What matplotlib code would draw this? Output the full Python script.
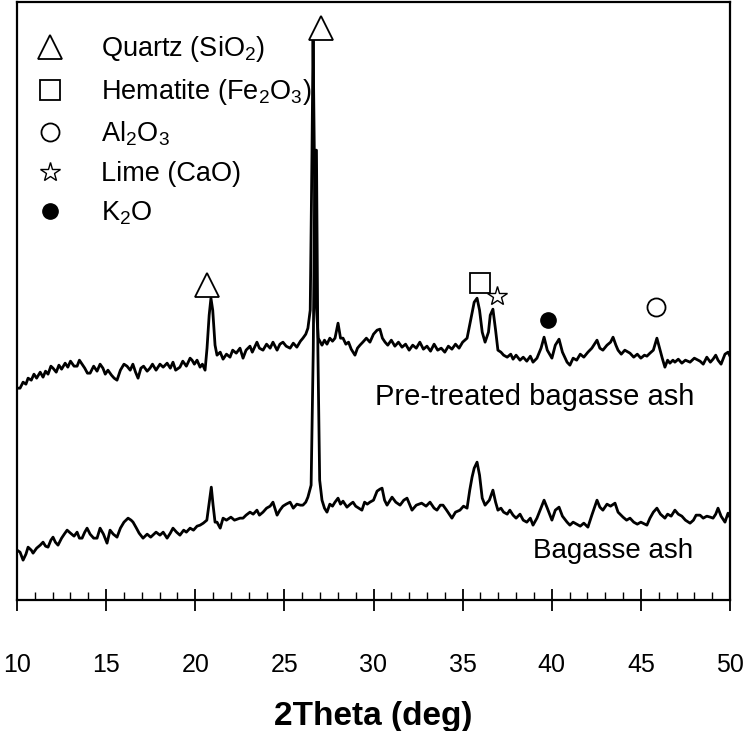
import matplotlib
matplotlib.use('Agg')
import matplotlib.pyplot as plt
from matplotlib.ticker import MultipleLocator

plt.rcParams['font.family'] = ['Liberation Sans', 'DejaVu Sans']
plt.rcParams['mathtext.fontset'] = 'custom'
plt.rcParams['mathtext.rm'] = 'Liberation Sans'
plt.rcParams['mathtext.it'] = 'Liberation Sans:italic'

# DATA (intensity in arbitrary units)
TWO_THETA_PRE = [
    10.00, 10.17, 10.34, 10.50, 10.62, 10.80, 10.95, 11.10, 11.30, 11.46,
    11.60, 11.74, 11.90, 12.02, 12.20, 12.35, 12.50, 12.70, 12.85, 13.00,
    13.20, 13.37, 13.50, 13.65, 13.80, 13.95, 14.10, 14.30, 14.49, 14.66,
    14.82, 14.95, 15.10, 15.30, 15.45, 15.61, 15.80, 16.00, 16.17, 16.35,
    16.50, 16.65, 16.79, 16.95, 17.10, 17.30, 17.46, 17.60, 17.80, 18.02,
    18.20, 18.42, 18.60, 18.75, 18.90, 19.14, 19.30, 19.50, 19.71, 19.82,
    19.95, 20.10, 20.27, 20.40, 20.55, 20.66, 20.78, 20.88, 20.98, 21.11,
    21.22, 21.40, 21.56, 21.75, 21.95, 22.10, 22.30, 22.51, 22.68, 22.85,
    23.07, 23.20, 23.46, 23.60, 23.80, 24.00, 24.20, 24.36, 24.59, 24.75,
    24.92, 25.10, 25.32, 25.50, 25.70, 25.90, 26.04, 26.20, 26.32, 26.45,
    26.55, 26.61, 26.68, 26.77, 26.90, 27.11, 27.25, 27.39, 27.55, 27.70,
    27.84, 28.01, 28.15, 28.29, 28.45, 28.60, 28.75, 28.96, 29.10, 29.24,
    29.40, 29.60, 29.80, 30.00, 30.20, 30.36, 30.50, 30.65, 30.80, 31.00,
    31.20, 31.40, 31.60, 31.80, 32.00, 32.20, 32.40, 32.60, 32.80, 33.00,
    33.20, 33.40, 33.60, 33.80, 34.00, 34.20, 34.40, 34.60, 34.80, 35.00,
    35.25, 35.45, 35.65, 35.81, 35.95, 36.10, 36.26, 36.45, 36.55, 36.70,
    36.85, 36.98, 37.15, 37.30, 37.50, 37.70, 37.83, 38.00, 38.22, 38.40,
    38.60, 38.80, 38.95, 39.17, 39.40, 39.57, 39.75, 40.01, 40.20, 40.41,
    40.60, 40.86, 41.02, 41.20, 41.40, 41.60, 41.80, 42.03, 42.25, 42.54,
    42.70, 42.87, 43.10, 43.30, 43.44, 43.60, 43.72, 43.90, 44.10, 44.39,
    44.60, 44.80, 45.00, 45.20, 45.34, 45.51, 45.70, 45.90, 46.05, 46.20,
    46.35, 46.50, 46.63, 46.80, 46.91, 47.10, 47.30, 47.50, 47.76, 48.00,
    48.32, 48.50, 48.70, 48.90, 49.05, 49.20, 49.33, 49.50, 49.72, 49.89,
    50.00]
INTENSITY_PRE = [
    212, 212, 218, 216, 222, 220, 226, 222, 228, 223,
    229, 226, 234, 232, 228, 235, 231, 237, 233, 239,
    234, 234, 240, 236, 232, 227, 227, 234, 229, 236,
    232, 226, 230, 225, 222, 220, 230, 236, 234, 230,
    236, 228, 222, 232, 234, 229, 232, 236, 230, 236,
    233, 237, 232, 238, 230, 233, 239, 234, 242, 240,
    236, 240, 233, 236, 230, 252, 285, 302, 290, 255,
    245, 248, 241, 246, 243, 250, 247, 252, 242, 250,
    254, 248, 258, 252, 250, 256, 252, 258, 250, 256,
    258, 254, 252, 257, 253, 259, 262, 266, 272, 290,
    450, 562, 450, 300, 262, 255, 260, 256, 262, 259,
    262, 277, 262, 262, 256, 258, 251, 245, 252, 255,
    258, 262, 258, 266, 270, 271, 262, 258, 255, 260,
    254, 258, 253, 256, 250, 255, 252, 258, 251, 254,
    249, 256, 250, 252, 248, 254, 251, 256, 252, 258,
    262, 280, 298, 302, 290, 268, 258, 268, 285, 291,
    270, 250, 248, 245, 243, 246, 241, 245, 240, 243,
    239, 244, 238, 242, 252, 263, 250, 242, 255, 261,
    248, 238, 235, 242, 240, 246, 243, 248, 252, 260,
    252, 250, 255, 258, 263, 255, 250, 246, 250, 247,
    243, 246, 242, 245, 244, 247, 250, 262, 252, 242,
    233, 240, 237, 240, 238, 241, 237, 240, 238, 242,
    239, 236, 243, 238, 241, 245, 240, 236, 246, 248,
    244]

TWO_THETA_RAW = [
    10.00, 10.17, 10.34, 10.50, 10.62, 10.80, 10.90, 11.10, 11.30, 11.46,
    11.60, 11.74, 11.90, 12.02, 12.15, 12.30, 12.50, 12.65, 12.81, 13.00,
    13.20, 13.37, 13.50, 13.65, 13.80, 13.93, 14.10, 14.30, 14.49, 14.66,
    14.85, 15.05, 15.22, 15.40, 15.61, 15.80, 16.00, 16.23, 16.40, 16.51,
    16.70, 16.85, 17.07, 17.30, 17.50, 17.80, 18.02, 18.20, 18.42, 18.60,
    18.75, 18.95, 19.14, 19.35, 19.50, 19.71, 19.90, 20.10, 20.27, 20.45,
    20.65, 20.80, 20.90, 21.00, 21.11, 21.22, 21.40, 21.56, 21.75, 22.00,
    22.20, 22.51, 22.68, 22.85, 23.07, 23.25, 23.46, 23.60, 23.80, 24.00,
    24.20, 24.36, 24.59, 24.75, 24.92, 25.10, 25.32, 25.50, 25.70, 25.90,
    26.04, 26.20, 26.32, 26.50, 26.62, 26.72, 26.80, 26.88, 26.98, 27.11,
    27.25, 27.39, 27.55, 27.70, 27.84, 28.01, 28.15, 28.29, 28.51, 28.70,
    28.85, 29.00, 29.35, 29.50, 29.65, 29.80, 30.00, 30.20, 30.36, 30.48,
    30.62, 30.76, 31.04, 31.25, 31.49, 31.70, 31.88, 32.16, 32.40, 32.70,
    32.95, 33.17, 33.40, 33.56, 33.75, 33.90, 34.10, 34.40, 34.60, 34.85,
    35.05, 35.25, 35.40, 35.53, 35.65, 35.81, 35.95, 36.10, 36.26, 36.50,
    36.70, 36.85, 36.98, 37.15, 37.30, 37.50, 37.65, 37.83, 38.00, 38.22,
    38.40, 38.60, 38.80, 38.95, 39.17, 39.35, 39.57, 39.75, 40.01, 40.20,
    40.41, 40.60, 40.86, 41.02, 41.20, 41.40, 41.60, 41.80, 42.03, 42.25,
    42.54, 42.70, 42.87, 43.10, 43.30, 43.55, 43.72, 44.00, 44.20, 44.39,
    44.60, 44.80, 45.00, 45.34, 45.51, 45.70, 45.90, 46.10, 46.35, 46.50,
    46.70, 46.91, 47.10, 47.30, 47.50, 47.76, 47.95, 48.10, 48.32, 48.50,
    48.70, 48.90, 49.05, 49.20, 49.33, 49.50, 49.72, 49.89, 50.00]
INTENSITY_RAW = [
    50, 48, 40, 46, 53, 50, 47, 52, 55, 58,
    54, 53, 60, 63, 58, 55, 62, 66, 70, 67,
    64, 68, 62, 62, 68, 72, 66, 62, 62, 72,
    66, 57, 70, 66, 63, 72, 78, 82, 80, 78,
    72, 67, 62, 66, 63, 68, 65, 68, 62, 67,
    72, 68, 65, 70, 68, 72, 70, 74, 75, 77,
    80, 100, 113, 95, 78, 78, 72, 82, 80, 83,
    80, 82, 82, 85, 88, 86, 90, 85, 88, 92,
    94, 98, 85, 90, 94, 96, 98, 92, 96, 95,
    95, 98, 103, 115, 250, 450, 450, 250, 120, 100,
    92, 88, 96, 94, 98, 102, 96, 99, 93, 96,
    98, 94, 90, 98, 96, 98, 100, 109, 111, 112,
    100, 95, 103, 98, 95, 100, 102, 90, 95, 97,
    94, 98, 92, 90, 95, 95, 90, 82, 88, 90,
    94, 92, 110, 123, 132, 138, 125, 102, 95, 100,
    110, 98, 90, 92, 88, 86, 90, 85, 82, 86,
    80, 78, 82, 75, 82, 90, 100, 92, 80, 90,
    93, 84, 78, 75, 78, 76, 74, 77, 73, 85,
    100, 93, 90, 96, 94, 97, 88, 83, 80, 82,
    78, 76, 78, 75, 82, 88, 92, 86, 82, 86,
    84, 90, 86, 84, 80, 77, 80, 85, 85, 82,
    84, 83, 82, 86, 92, 84, 78, 87, 83]

# phase marks
QUARTZ_X = [20.66, 27.05]
QUARTZ_Y = [315, 572]
HEMATITE_X = [35.97]
HEMATITE_Y = [317]
AL2O3_X = [45.85]
AL2O3_Y = [293]
LIME_X = [36.93]
LIME_Y = [304]
K2O_X = [39.79]
K2O_Y = [280]

fig = plt.figure(figsize=(7.5, 7.31), dpi=100)
ax = fig.add_axes([0.0227, 0.179, 0.9506, 0.818])

ax.plot(TWO_THETA_PRE, INTENSITY_PRE, color='black', lw=2.0)
ax.plot(TWO_THETA_RAW, INTENSITY_RAW, color='black', lw=2.0)

ax.plot(QUARTZ_X, QUARTZ_Y, ls='none', marker='^', ms=17, mfc='white',
        mec='black', mew=1.3, label='Quartz (SiO$_2$)')
ax.plot(HEMATITE_X, HEMATITE_Y, ls='none', marker='s', ms=15, mfc='white',
        mec='black', mew=1.3, label='Hematite (Fe$_2$O$_3$)')
ax.plot(AL2O3_X, AL2O3_Y, ls='none', marker='o', ms=13, mfc='white',
        mec='black', mew=1.3, label='Al$_2$O$_3$')
ax.plot(LIME_X, LIME_Y, ls='none', marker='*', ms=15, mfc='white',
        mec='black', mew=1.0, label='Lime (CaO)')
ax.plot(K2O_X, K2O_Y, ls='none', marker='o', ms=11, mfc='black',
        mec='black', label='K$_2$O')

ax.text(30.08, 203, 'Pre-treated bagasse ash', fontsize=21, va='center')
ax.text(38.95, 49, 'Bagasse ash', fontsize=20, va='center')

ax.legend(loc='upper left', frameon=False, fontsize=19.5, numpoints=1,
          handlelength=1.0, handletextpad=1.4, labelspacing=0.47,
          bbox_to_anchor=(0.0, 0.978), borderaxespad=0.3)

ax.set_xlim(10, 50)
ax.set_ylim(0, 598)
ax.set_yticks([])
ax.xaxis.set_major_locator(MultipleLocator(5))
ax.xaxis.set_minor_locator(MultipleLocator(1))
ax.tick_params(axis='x', which='major', direction='inout', length=16,
               width=1.3, labelsize=18, pad=30)
ax.tick_params(axis='x', which='minor', direction='in', length=6, width=1.0)
for s in ax.spines.values():
    s.set_linewidth(1.6)

ax.set_xlabel('2Theta (deg)', fontsize=24, fontweight='bold', labelpad=17)

fig.savefig('out.png', dpi=100)
